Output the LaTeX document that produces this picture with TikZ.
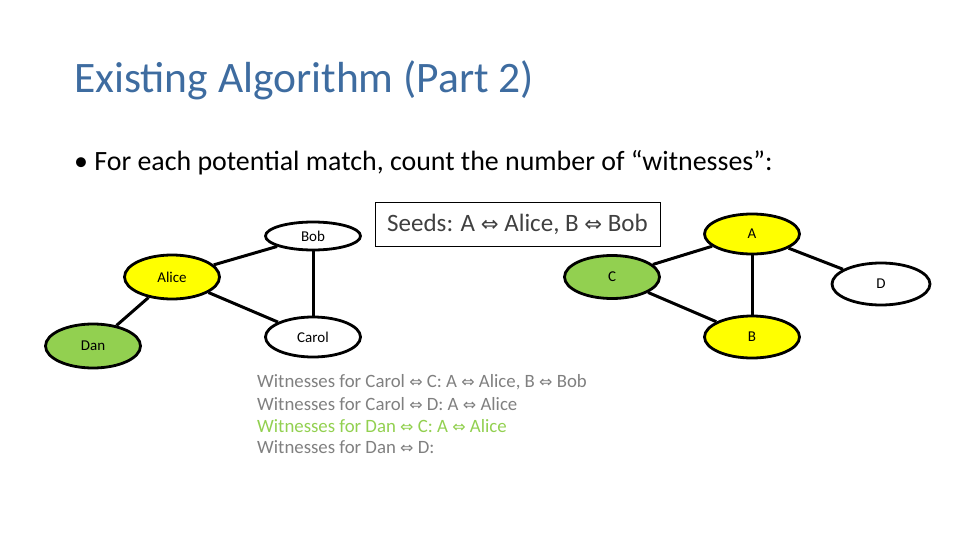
\documentclass[tikz,border=0pt]{standalone}
\usepackage{fontspec}
\setmainfont{Carlito}
\newfontfamily\sym{DejaVu Sans}
\newcommand{\eqv}{{\sym\fontsize{0.85em}{1em}\selectfont ⇔}}
\usetikzlibrary{shapes.geometric}
\definecolor{ttl}{RGB}{62,108,160}
\definecolor{yel}{RGB}{255,255,0}
\definecolor{grn}{RGB}{146,208,80}
\definecolor{wit}{RGB}{128,128,128}
\begin{document}
\begin{tikzpicture}[x=1pt,y=-1pt,
 nd/.style={ellipse,draw,line width=2.8pt,minimum width=95pt,inner sep=0pt,font=\fontsize{15}{17}\selectfont},
 ed/.style={line width=3pt},
 wl/.style={anchor=west,font=\fontsize{18.8}{21}\selectfont,text=wit,inner sep=0pt}]
\useasboundingbox (0,0) rectangle (960,540);
\node[anchor=west,text=ttl,font=\fontsize{43.5}{47}\selectfont,inner sep=0pt] (title) at (74,80) {Existing Algorithm (Part 2)};
\node[anchor=west,font=\fontsize{27.9}{31}\selectfont,inner sep=0pt] (bul) at (74,163) {• For each potential match, count the number of “witnesses”:};
\node[draw,line width=0.6pt,minimum width=285pt,minimum height=44pt,font=\fontsize{25}{28}\selectfont,text=black!75] (seeds) at (517.5,224) {Seeds: A \eqv{} Alice, B \eqv{} Bob};
\node[nd,minimum height=28pt] (bob) at (313,236) {Bob};
\node[nd,fill=yel,minimum height=44pt] (alice) at (172,277) {Alice};
\node[nd,minimum height=40pt] (carol) at (313,337) {Carol};
\node[nd,fill=grn,minimum height=44pt] (dan) at (93,346) {Dan};
\node[nd,fill=yel,minimum height=40pt] (a) at (752,234) {A};
\node[nd,fill=grn,minimum height=43pt] (c) at (612,277) {C};
\node[nd,minimum height=42pt,minimum width=98pt] (d) at (881,284) {D};
\node[nd,fill=yel,minimum height=42pt] (b) at (752,337) {B};
\draw[ed] (alice) -- (bob);
\draw[ed] (alice) -- (carol);
\draw[ed] (bob) -- (carol);
\draw[ed] (alice) -- (dan);
\draw[ed] (c) -- (a);
\draw[ed] (c) -- (b);
\draw[ed] (a) -- (b);
\draw[ed] (a) -- (d);
\node[wl] (w1) at (257,382) {Witnesses for Carol \eqv{} C: A \eqv{} Alice, B \eqv{} Bob};
\node[wl] (w2) at (257,404) {Witnesses for Carol \eqv{} D: A \eqv{} Alice};
\node[wl,text=grn] (w3) at (257,426) {Witnesses for Dan \eqv{} C: A \eqv{} Alice};
\node[wl] (w4) at (257,447) {Witnesses for Dan \eqv{} D:};
\end{tikzpicture}
\end{document}
